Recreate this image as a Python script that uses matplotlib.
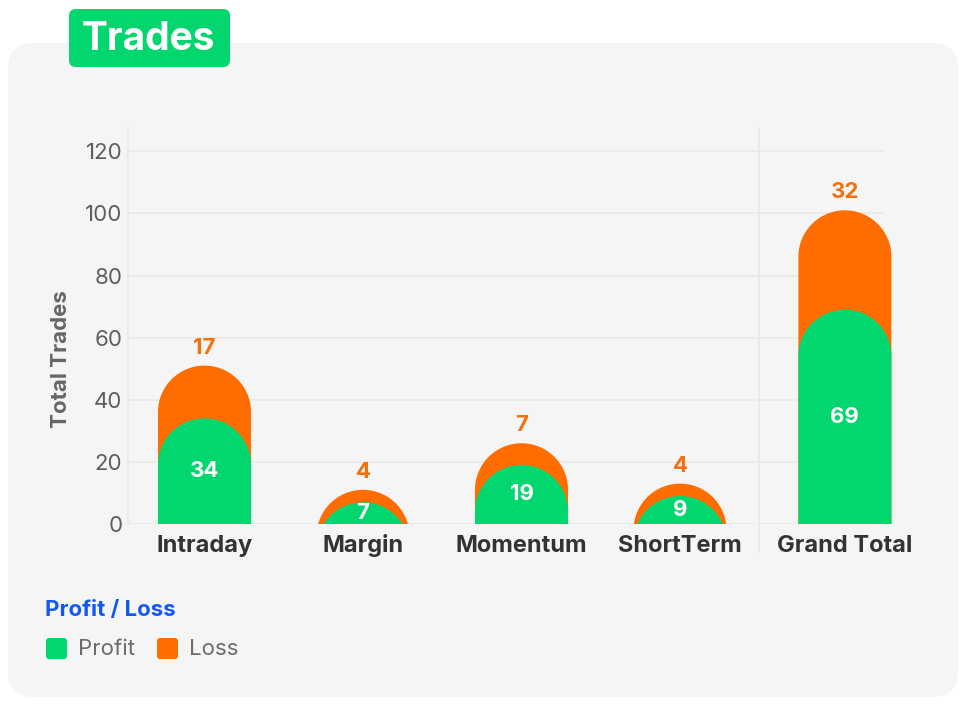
import numpy as np
import matplotlib
matplotlib.use('Agg')
import matplotlib.pyplot as plt
from matplotlib.patches import FancyBboxPatch, Polygon
from matplotlib.transforms import blended_transform_factory

# ---------------- data ----------------
categories = ['Intraday', 'Margin', 'Momentum', 'ShortTerm', 'Grand Total']
profit = [34, 7, 19, 9, 69]
loss = [17, 4, 7, 4, 32]
y_ticks = [0, 20, 40, 60, 80, 100, 120]
title = 'Trades'
y_label = 'Total Trades'
legend_title = 'Profit / Loss'
series_names = ['Profit', 'Loss']

# ---------------- style ----------------
FONT = ['Inter', 'DejaVu Sans']
plt.rcParams['font.family'] = FONT
GREEN = '#02D66E'
ORANGE = '#FF6D00'
ORANGE_TXT = '#F2700E'
BLUE = '#1159F0'
PANEL = '#F5F5F5'
GRID = '#E9E9E9'

W, H = 962, 713
fig = plt.figure(figsize=(W / 100, H / 100), dpi=100)
fig.patch.set_facecolor('white')

# background (pixel coordinates)
bg = fig.add_axes([0, 0, 1, 1], zorder=0)
bg.set_xlim(0, W)
bg.set_ylim(H, 0)
bg.axis('off')
bg.add_patch(FancyBboxPatch((8, 43), 950, 654, boxstyle='round,pad=0,rounding_size=26',
                            fc=PANEL, ec='none'))
bg.add_patch(FancyBboxPatch((69, 9), 161, 58, boxstyle='round,pad=0,rounding_size=7',
                            fc=GREEN, ec='none'))
bg.text(148, 39, title, color='white', fontsize=28, fontweight='bold',
        ha='center', va='center')

# legend
bg.text(45, 610, legend_title, color=BLUE, fontsize=16, fontweight='bold',
        ha='left', va='center')
leg_x = [46, 157]
for lx, name, col in zip(leg_x, series_names, [GREEN, ORANGE]):
    bg.add_patch(FancyBboxPatch((lx, 638), 21, 21, boxstyle='round,pad=0,rounding_size=3',
                                fc=col, ec='none'))
    bg.text(lx + 32, 649, name, color='#6B6B6B', fontsize=16, ha='left', va='center')

# ---------------- main axes ----------------
L, R, T, B = 128, 885, 128, 524
ax = fig.add_axes([L / W, (H - B) / H, (R - L) / W, (B - T) / H], zorder=1)
ax.patch.set_alpha(0)

x = np.arange(len(categories), dtype=float)
x[-1] += 0.04
xlim = (-0.4826, 4.293)
ylim = (0, 127.5)
ax.set_xlim(*xlim)
ax.set_ylim(*ylim)
px_x = (R - L) / (xlim[1] - xlim[0])
px_y = (B - T) / (ylim[1] - ylim[0])
bw = 0.587
rx = bw / 2
ry = rx * px_x / px_y


def dome(xc, v, color, z):
    cy = v - ry
    t = np.linspace(0, np.pi, 120)
    xs = xc + rx * np.cos(t)
    ys = np.maximum(cy + ry * np.sin(t), 0)
    pts = [(xc + rx, 0)] + list(zip(xs, ys)) + [(xc - rx, 0)]
    p = Polygon(pts, closed=True, fc=color, ec='none', zorder=z, clip_on=False)
    ax.add_patch(p)


totals = [p + l for p, l in zip(profit, loss)]
for xi, p, l, tot in zip(x, profit, loss, totals):
    dome(xi, tot, ORANGE, 3)
    dome(xi, p, GREEN, 4)
    ax.annotate(str(l), (xi, tot), xytext=(0, 18), textcoords='offset pixels',
                ha='center', va='center', color=ORANGE_TXT, fontsize=16,
                fontweight='bold', zorder=6, annotation_clip=False)
    ax.text(xi, p / 2, str(p), ha='center', va='center', color='white',
            fontsize=16, fontweight='bold', zorder=6)

ax.set_yticks(y_ticks)
ax.set_yticklabels([str(v) for v in y_ticks])
ax.set_xticks(x)
ax.set_xticklabels(categories)
ax.tick_params(axis='y', length=0, pad=4, labelsize=16, labelcolor='#5E5E5E')
ax.tick_params(axis='x', length=0, pad=20, labelsize=17, labelcolor='#333333')
for lbl in ax.get_xticklabels():
    lbl.set_fontweight('bold')
    lbl.set_verticalalignment('baseline')
ax.grid(axis='y', color=GRID, lw=1.3, zorder=0)
ax.set_axisbelow(True)
for s in ['top', 'right', 'bottom']:
    ax.spines[s].set_visible(False)
ax.spines['left'].set_color(GRID)
ax.spines['left'].set_linewidth(1.3)

ax.set_ylabel(y_label, fontsize=16, fontweight='bold', color='#666666')
ax.yaxis.set_label_coords((71 - L) / (R - L), (B - 359) / (B - T))

# separator before the grand total
trans = blended_transform_factory(ax.transData, ax.transAxes)
ax.plot([3.5, 3.5], [1.0, -(552 - B) / (B - T)], transform=trans, color=GRID,
        lw=1.3, clip_on=False, zorder=1)

fig.savefig('out.png', dpi=100, facecolor='white')
